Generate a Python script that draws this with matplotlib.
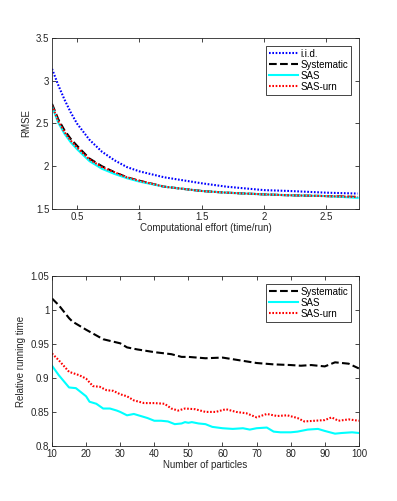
import matplotlib
matplotlib.use('Agg')
import matplotlib.pyplot as plt

plt.rcParams['font.family'] = ['Liberation Sans', 'DejaVu Sans']
plt.rcParams['font.size'] = 7

# top panel: RMSE vs computational effort
effort = [0.30, 0.35, 0.40, 0.45, 0.50, 0.60, 0.70, 0.80, 0.90, 1.00, 1.20,
          1.50, 1.70, 2.00, 2.20, 2.50, 2.75]
rmse_iid = [3.14, 2.95, 2.78, 2.63, 2.50, 2.31, 2.17, 2.07, 1.99, 1.94, 1.87,
            1.80, 1.76, 1.72, 1.71, 1.69, 1.68]
rmse_sys = [2.73, 2.55, 2.42, 2.32, 2.24, 2.09, 2.00, 1.93, 1.87, 1.83, 1.76,
            1.71, 1.69, 1.67, 1.66, 1.65, 1.64]
rmse_sas = [2.70, 2.51, 2.38, 2.28, 2.20, 2.06, 1.97, 1.91, 1.86, 1.82, 1.76,
            1.71, 1.69, 1.67, 1.66, 1.65, 1.63]
rmse_urn = [2.71, 2.53, 2.40, 2.30, 2.22, 2.08, 1.99, 1.93, 1.87, 1.83, 1.76,
            1.71, 1.69, 1.67, 1.66, 1.65, 1.64]

# bottom panel: relative running time vs number of particles
n_sys = [10, 12, 15, 16, 20, 25, 30, 32, 35, 40, 45, 48, 50, 55, 60, 65, 70,
         75, 80, 83, 86, 90, 93, 97, 100]
t_sys = [1.017, 1.007, 0.988, 0.983, 0.971, 0.957, 0.951, 0.945, 0.942, 0.938,
         0.935, 0.931, 0.931, 0.929, 0.930, 0.926, 0.922, 0.920, 0.919, 0.918,
         0.919, 0.917, 0.923, 0.921, 0.914]
n_sas = [10, 12, 15, 17, 19, 20, 21, 23, 25, 27, 29, 30, 32, 34, 36, 38, 40,
         42, 44, 46, 48, 49, 50, 51, 53, 55, 57, 60, 63, 66, 68, 70, 73, 75,
         77, 80, 82, 85, 88, 90, 93, 95, 98, 100]
t_sas = [0.918, 0.904, 0.886, 0.885, 0.877, 0.873, 0.865, 0.862, 0.855, 0.855,
         0.852, 0.850, 0.845, 0.847, 0.844, 0.841, 0.837, 0.837, 0.836, 0.832,
         0.833, 0.835, 0.834, 0.835, 0.833, 0.832, 0.828, 0.826, 0.825, 0.826,
         0.824, 0.826, 0.827, 0.821, 0.820, 0.820, 0.821, 0.824, 0.825, 0.822,
         0.818, 0.819, 0.820, 0.819]
n_urn = [10, 12, 15, 18, 20, 22, 24, 26, 28, 30, 32, 34, 37, 40, 43, 45, 47,
         49, 52, 55, 58, 61, 64, 67, 70, 73, 76, 79, 82, 84, 87, 90, 92, 94,
         97, 100]
t_urn = [0.936, 0.926, 0.909, 0.904, 0.899, 0.888, 0.887, 0.882, 0.881, 0.876,
         0.873, 0.867, 0.863, 0.863, 0.862, 0.855, 0.852, 0.855, 0.854, 0.850,
         0.850, 0.854, 0.850, 0.848, 0.842, 0.847, 0.844, 0.845, 0.841, 0.836,
         0.837, 0.838, 0.842, 0.837, 0.839, 0.837]

axcol = '#262626'
dots = (0, (0.8, 0.8))


def style(ax):
    for s in ax.spines.values():
        s.set_color(axcol)
        s.set_linewidth(0.6)
    ax.tick_params(direction='in', top=True, right=True, colors=axcol,
                   length=3, width=0.6, labelsize=7, pad=2)


fig = plt.figure(figsize=(3.97, 5.01), dpi=100)

ax1 = fig.add_axes([0.131, 0.583, 0.773, 0.341])
ax1.plot(effort, rmse_iid, color='blue', ls=dots, lw=1.5, label='i.i.d.')
ax1.plot(effort, rmse_sys, color='black', ls='--', lw=1.5, label='Systematic')
ax1.plot(effort, rmse_sas, color='cyan', ls='-', lw=1.5, label='SAS')
ax1.plot(effort, rmse_urn, color='red', ls=dots, lw=1.5, label='SAS-urn')
ax1.set_xlim(0.3, 2.76)
ax1.set_ylim(1.5, 3.5)
ax1.set_xticks([0.5, 1, 1.5, 2, 2.5])
ax1.set_xticklabels(['0.5', '1', '1.5', '2', '2.5'])
ax1.set_yticks([1.5, 2, 2.5, 3, 3.5])
ax1.set_yticklabels(['1.5', '2', '2.5', '3', '3.5'])
ax1.set_xlabel('Computational effort (time/run)', color=axcol, labelpad=1)
ax1.set_ylabel('RMSE', color=axcol, labelpad=3)
style(ax1)
leg1 = ax1.legend(loc='upper right', fontsize=7, fancybox=False,
                  edgecolor=axcol, framealpha=1, borderpad=0.3,
                  handlelength=3, handletextpad=0.2, labelspacing=0.1,
                  borderaxespad=0.8)
leg1.get_frame().set_linewidth(0.6)

ax2 = fig.add_axes([0.131, 0.110, 0.773, 0.339])
ax2.plot(n_sys, t_sys, color='black', ls='--', lw=1.5, label='Systematic')
ax2.plot(n_sas, t_sas, color='cyan', ls='-', lw=1.5, label='SAS')
ax2.plot(n_urn, t_urn, color='red', ls=dots, lw=1.5, label='SAS-urn')
ax2.set_xlim(10, 100)
ax2.set_ylim(0.8, 1.05)
ax2.set_xticks(range(10, 101, 10))
ax2.set_yticks([0.8, 0.85, 0.9, 0.95, 1.0, 1.05])
ax2.set_yticklabels(['0.8', '0.85', '0.9', '0.95', '1', '1.05'])
ax2.set_xlabel('Number of particles', color=axcol, labelpad=1)
ax2.set_ylabel('Relative running time', color=axcol, labelpad=3)
style(ax2)
leg2 = ax2.legend(loc='upper right', fontsize=7, fancybox=False,
                  edgecolor=axcol, framealpha=1, borderpad=0.3,
                  handlelength=3, handletextpad=0.2, labelspacing=0.1,
                  borderaxespad=0.8)
leg2.get_frame().set_linewidth(0.6)

fig.savefig('out.png', dpi=100)
